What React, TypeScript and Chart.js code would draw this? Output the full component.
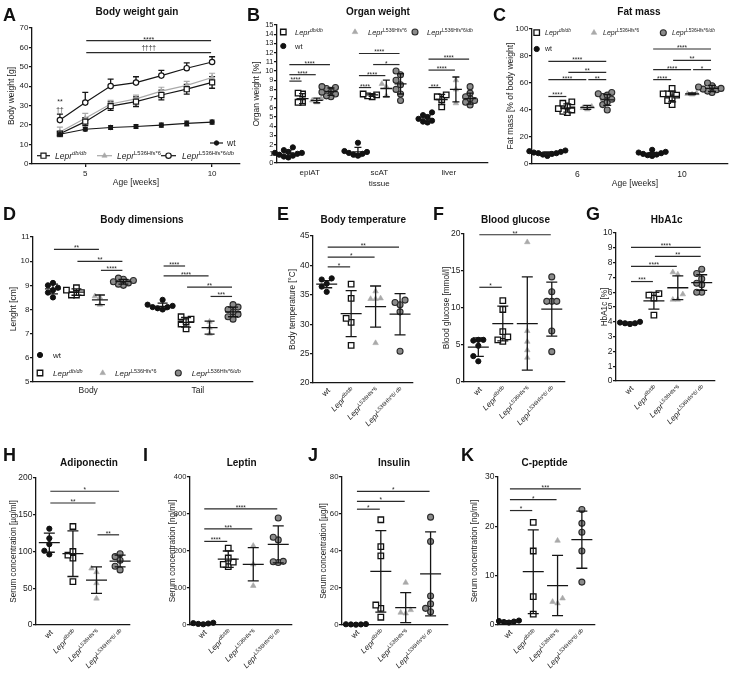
import React, { useEffect, useRef } from "react";
import { Chart, registerables } from "chart.js";
Chart.register(...registerables);

const FF = '"Liberation Sans", Arial, Helvetica, sans-serif';
const INK = "#161616";
const TXT = "#1c1c1c";
const LGREY = "#a9a9a9";

// ================= DATA =================
// Panel A: body weight (mean ± SD) by age
const A_weeks = [4, 5, 6, 7, 8, 9, 10];
const A_wt_mean = [15.3, 17.9, 18.8, 19.3, 20.0, 20.9, 21.6];
const A_wt_sd = [0.8, 0.9, 1.0, 1.0, 1.0, 1.2, 1.0];
const A_db_mean = [15.6, 21.8, 29.8, 32.1, 35.5, 38.5, 42.0];
const A_db_sd = [1.0, 2.0, 2.2, 2.5, 2.5, 2.5, 3.0];
const A_l536_mean = [16.5, 23.5, 30.9, 33.5, 37.5, 40.5, 44.5];
const A_l536_sd = [2.5, 2.6, 1.8, 2.0, 2.0, 2.0, 2.2];
const A_l536db_mean = [22.6, 31.6, 40.1, 41.9, 45.5, 49.3, 52.5];
const A_l536db_sd = [3.1, 5.3, 3.6, 3.0, 2.7, 2.8, 2.7];
const A_x_ticks = [5, 10];
const A_sig: [number, number, number, string][] = [
  [5, 10, 63.5, "****"],
  [5, 10, 57.3, "††††"],
];
const A_early: [number, number, string][] = [
  [4, 33.0, "**"],
  [4, 28.3, "††"],
];

// Panel B: organ weight [%], per tissue
const B_tissues = ["epiAT", "scAT", "liver"];
const B_wt = [[0.6, 0.7, 0.8, 0.9, 1.0, 1.1, 1.1, 1.2, 1.4, 1.7], [0.8, 0.9, 1.0, 1.1, 1.2, 1.3, 2.2], [4.4, 4.5, 4.6, 4.8, 5.0, 5.2, 5.5]];
const B_wt_mean = [1.1, 1.2, 4.8];
const B_wt_sd = [0.3, 0.5, 0.4];
const B_db = [[6.6, 6.6, 7.5, 7.6], [7.2, 7.3, 7.4, 7.5], [6.1, 6.9, 7.2, 7.4]];
const B_db_mean = [7.0, 7.4, 6.9];
const B_db_sd = [0.55, 0.15, 0.55];
const B_l536 = [[6.6, 6.8, 7.0], [7.3, 8.3, 8.6], [6.5, 8.0, 9.0]];
const B_l536_mean = [6.8, 8.1, 8.0];
const B_l536_sd = [0.25, 0.9, 1.35];
const B_l536db = [[7.2, 7.3, 7.5, 7.7, 7.9, 8.1, 8.2, 8.3], [6.8, 7.5, 8.0, 8.5, 9.0, 9.6, 10.0], [6.3, 6.6, 6.8, 7.0, 7.2, 7.6, 8.3]];
const B_l536db_mean = [7.75, 8.6, 7.0];
const B_l536db_sd = [0.4, 1.1, 0.6];
const B_sig: [number, number, number, number, string][] = [
  [0, 0, 1, 8.9, "****"], [0, 0, 2, 9.6, "****"], [0, 0, 3, 10.7, "****"],
  [1, 0, 1, 8.2, "****"], [1, 0, 2, 9.5, "****"], [1, 1, 3, 10.7, "*"], [1, 0, 3, 11.9, "****"],
  [2, 0, 1, 8.2, "***"], [2, 0, 2, 10.1, "****"], [2, 0, 3, 11.3, "****"],
];

// Panel C: fat mass [% of body weight], week 6 / week 10
const C_weeks = ["6", "10"];
const C_wt = [[6, 7, 7.5, 8, 8, 8.5, 9, 9.5, 10], [6, 6.5, 7, 7.5, 8, 8.5, 9, 10.5]];
const C_wt_mean = [8.0, 7.5];
const C_wt_sd = [1.0, 1.0];
const C_db = [[38, 39, 40, 41, 43, 45, 46], [44, 47, 49, 51, 52, 52, 56]];
const C_db_mean = [41.5, 50.0];
const C_db_sd = [3.0, 4.0];
const C_l536 = [[40.5, 41.5, 42.5], [51.5, 52, 52.5]];
const C_l536_mean = [42, 52];
const C_l536_sd = [1.5, 0.6];
const C_l536db = [[40, 44, 46, 48, 50, 51, 52, 53], [53, 54, 55, 55.5, 56, 57, 58, 60]];
const C_l536db_mean = [47.5, 56];
const C_l536db_sd = [4, 2.3];
const C_sig: [number, number, number, number, string][] = [
  [0, 0, 1, 50, "****"], [0, 0, 2, 62.5, "****"], [0, 2, 3, 62.5, "**"], [0, 1, 3, 67.9, "**"], [0, 0, 3, 76, "****"],
  [1, 0, 1, 62.5, "****"], [1, 0, 2, 69.9, "****"], [1, 2, 3, 69.9, "*"], [1, 1, 3, 76.8, "**"], [1, 0, 3, 85.2, "****"],
];

// Panel D: body dimensions [cm]
const D_parts = ["Body", "Tail"];
const D_wt = [[8.5, 8.7, 8.8, 8.9, 9.0, 9.1], [8.0, 8.05, 8.1, 8.1, 8.15, 8.2, 8.4]];
const D_wt_mean = [8.85, 8.13];
const D_wt_sd = [0.2, 0.13];
const D_db = [[8.6, 8.6, 8.7, 8.8, 8.9], [7.2, 7.4, 7.5, 7.6, 7.7]];
const D_db_mean = [8.72, 7.47];
const D_db_sd = [0.13, 0.2];
const D_l536 = [[8.2, 8.5, 8.55], [7.0, 7.25, 7.5]];
const D_l536_mean = [8.4, 7.25];
const D_l536_sd = [0.2, 0.27];
const D_l536db = [[9.0, 9.05, 9.1, 9.15, 9.2, 9.25, 9.3], [7.6, 7.7, 7.8, 7.9, 8.0, 8.1, 8.2]];
const D_l536db_mean = [9.15, 7.9];
const D_l536db_sd = [0.1, 0.2];
const D_sig: [number, number, number, number, string][] = [
  [0, 0, 2, 10.49, "**"], [0, 1, 3, 9.99, "**"], [0, 2, 3, 9.62, "****"],
  [1, 0, 1, 9.8, "****"], [1, 0, 2, 9.39, "****"], [1, 1, 3, 8.93, "**"], [1, 2, 3, 8.54, "***"],
];

// Panel E: body temperature [°C]
const E_pts = [[35.5, 36.4, 36.9, 37.6, 37.8], [26.4, 30.3, 31.0, 34.4, 36.8], [26.8, 34.3, 34.3, 34.4, 35.6], [25.4, 32.1, 33.3, 33.7, 34.1]];
const E_mean = [36.8, 31.8, 33.0, 31.7];
const E_sd = [0.6, 3.9, 3.5, 3.5];
const E_sig: [number, number, number, string][] = [[0, 1, 39.75, "*"], [0, 2, 41.4, "*"], [0, 3, 43.1, "**"]];

// Panel F: blood glucose [mmol/l]
const F_pts = [[2.8, 3.5, 4.9, 5.6, 5.7, 5.7], [5.5, 5.7, 6.1, 6.8, 9.8, 11.0], [3.3, 4.3, 5.45, 6.9, 18.9], [4.1, 6.9, 10.9, 10.9, 10.9, 12.2, 14.2]];
const F_mean = [4.7, 7.9, 7.9, 9.85];
const F_sd = [1.25, 2.35, 6.3, 3.65];
const F_sig: [number, number, number, string][] = [[0, 1, 12.8, "*"], [0, 3, 19.9, "**"]];

// Panel G: HbA1c [%]
const G_pts = [[3.85, 3.9, 3.9, 3.95, 4.0], [4.45, 5.6, 5.8, 5.9], [5.5, 5.5, 5.86, 7.2, 7.35], [6.0, 6.0, 6.5, 6.6, 6.9, 7.26, 7.55]];
const G_mean = [3.92, 5.42, 6.3, 6.65];
const G_sd = [0.06, 0.57, 0.8, 0.53];
const G_sig: [number, number, number, string][] = [[0, 1, 6.72, "***"], [0, 2, 7.74, "****"], [1, 3, 8.42, "**"], [0, 3, 9.03, "****"]];

// Panel H: adiponectin [µg/ml]
const H_pts = [[96, 101, 110, 118, 131], [59, 91, 95, 100, 134], [36, 57, 72, 77], [75, 80, 88, 93, 97]];
const H_mean = [112, 97, 61, 87];
const H_sd = [13, 31, 18, 8];
const H_sig: [number, number, number, string][] = [[0, 2, 166, "**"], [0, 3, 182, "*"], [2, 3, 122.7, "**"]];

// Panel I: leptin [ng/ml]
const I_pts = [[2, 3, 4, 5, 6], [158, 164, 170, 181, 208], [106, 164, 214], [169, 171, 172, 230, 237, 289]];
const I_mean = [4, 178, 164, 218];
const I_sd = [1.5, 22, 45, 50];
const I_sig: [number, number, number, string][] = [[0, 1, 226, "****"], [0, 2, 260, "***"], [0, 3, 314, "****"]];

// Panel J: insulin [µg/l]
const J_pts = [[0.2, 0.3, 0.3, 0.4, 0.5], [4.2, 9.0, 10.8, 37.4, 42.4, 56.9], [6.3, 6.7, 8.1, 22.9], [7.2, 9.0, 11.4, 15.7, 45.1, 58.3]];
const J_mean = [0.3, 29, 9.4, 27.6];
const J_sd = [0.1, 22, 8.1, 22.7];
const J_sig: [number, number, number, string][] = [[0, 1, 62.6, "*"], [0, 2, 66.8, "*"], [0, 3, 72.2, "*"]];

// Panel K: C-peptide [ng/ml]
const K_pts = [[0.5, 0.6, 0.7, 0.8, 0.9, 1.0], [2.2, 5.75, 15.0, 20.8], [4.4, 4.7, 5.4, 17.1], [8.7, 15.0, 18.8, 20.6, 23.4]];
const K_mean = [0.7, 10.8, 8.0, 17.3];
const K_sd = [0.2, 8.5, 6.1, 5.8];
const K_sig: [number, number, number, string][] = [[0, 1, 23.2, "*"], [0, 2, 25.4, "*"], [0, 3, 27.6, "***"]];

// ================= LABELS / STYLES =================
type Part = { t: string; it?: boolean; sup?: boolean };
const LBL_WT: Part[] = [{ t: "wt" }];
const LBL_DB: Part[] = [{ t: "Lepr", it: true }, { t: "db/db", it: true, sup: true }];
const LBL_L536: Part[] = [{ t: "Lepr", it: true }, { t: "L536Hfs*6", sup: true }];
const LBL_L536DB: Part[] = [{ t: "Lepr", it: true }, { t: "L536Hfs*6/", sup: true }, { t: "db", it: true, sup: true }];
const LBL_L536DB_SP: Part[] = [{ t: "Lepr", it: true }, { t: "L536Hfs*6/ ", sup: true }, { t: "db", it: true, sup: true }];
const ROT_LABELS = [LBL_WT, LBL_DB, LBL_L536, LBL_L536DB_SP];

type MS = { ps: string; r: number; bg: string; bd: string; bw: number };
const GS: MS[] = [
  { ps: "circle", r: 2.6, bg: "#111", bd: "#111", bw: 1 },
  { ps: "rect", r: 3.9, bg: "#fff", bd: "#111", bw: 1.3 },
  { ps: "triangle", r: 3.2, bg: LGREY, bd: LGREY, bw: 0.6 },
  { ps: "circle", r: 3.0, bg: "#8b8b8b", bd: "#2b2b2b", bw: 1.1 },
];
const AS: MS[] = [
  { ps: "circle", r: 2.2, bg: INK, bd: INK, bw: 1 },
  { ps: "rect", r: 3.6, bg: "#fff", bd: INK, bw: 1.2 },
  { ps: "triangle", r: 3.0, bg: LGREY, bd: LGREY, bw: 0.6 },
  { ps: "circle", r: 2.7, bg: "#fff", bd: INK, bw: 1.2 },
];

// ================= DRAW HELPERS =================
interface DC { ctx: CanvasRenderingContext2D; X: (v: number) => number; Y: (v: number) => number }

function partFont(p: Part, size: number) {
  return `${p.it ? "italic " : ""}${p.sup ? size * 0.68 : size}px ${FF}`;
}
function richWidth(ctx: CanvasRenderingContext2D, parts: Part[], size: number) {
  let w = 0;
  for (const p of parts) { ctx.font = partFont(p, size); w += ctx.measureText(p.t).width; }
  return w;
}
function drawRich(ctx: CanvasRenderingContext2D, parts: Part[], x: number, y: number, size: number, align = "left") {
  const w = richWidth(ctx, parts, size);
  let cx = align === "left" ? x : align === "right" ? x - w : x - w / 2;
  ctx.save();
  ctx.fillStyle = TXT;
  ctx.textAlign = "left";
  ctx.textBaseline = "alphabetic";
  for (const p of parts) {
    ctx.font = partFont(p, size);
    ctx.fillText(p.t, cx, p.sup ? y - size * 0.38 : y);
    cx += ctx.measureText(p.t).width;
  }
  ctx.restore();
}
function text(ctx: CanvasRenderingContext2D, s: string, x: number, y: number, size: number, align: CanvasTextAlign = "center") {
  ctx.save();
  ctx.font = `${size}px ${FF}`;
  ctx.fillStyle = TXT;
  ctx.textAlign = align;
  ctx.textBaseline = "alphabetic";
  ctx.fillText(s, x, y);
  ctx.restore();
}
function yTitle(ctx: CanvasRenderingContext2D, s: string, x: number, yc: number, size = 8) {
  ctx.save();
  ctx.translate(x, yc);
  ctx.rotate(-Math.PI / 2);
  ctx.font = `${size}px ${FF}`;
  ctx.fillStyle = TXT;
  ctx.textAlign = "center";
  ctx.textBaseline = "middle";
  ctx.fillText(s, 0, 0);
  ctx.restore();
}
function drawMarker(ctx: CanvasRenderingContext2D, m: MS, x: number, y: number) {
  ctx.save();
  ctx.beginPath();
  if (m.ps === "circle") ctx.arc(x, y, m.r, 0, Math.PI * 2);
  else if (m.ps === "rect") { const s = m.r / Math.SQRT2; ctx.rect(x - s, y - s, 2 * s, 2 * s); }
  else {
    let a = 0;
    ctx.moveTo(x + Math.sin(a) * m.r, y - Math.cos(a) * m.r);
    a += (2 * Math.PI) / 3; ctx.lineTo(x + Math.sin(a) * m.r, y - Math.cos(a) * m.r);
    a += (2 * Math.PI) / 3; ctx.lineTo(x + Math.sin(a) * m.r, y - Math.cos(a) * m.r);
    ctx.closePath();
  }
  ctx.fillStyle = m.bg; ctx.fill();
  ctx.lineWidth = m.bw; ctx.strokeStyle = m.bd; ctx.stroke();
  ctx.restore();
}
function legendItem(ctx: CanvasRenderingContext2D, m: MS, mx: number, y: number, parts: Part[], tx: number, size: number) {
  drawMarker(ctx, m, mx, y);
  drawRich(ctx, parts, tx, y + size * 0.35, size, "left");
}
function errBar(d: DC, xv: number, mean: number, sd: number, mh: number, ch: number, up = false, color = INK, lw = 1.3) {
  const { ctx, X, Y } = d;
  const px = X(xv);
  ctx.save();
  ctx.strokeStyle = color; ctx.lineWidth = lw;
  ctx.beginPath();
  if (mh > 0) { ctx.moveTo(px - mh, Y(mean)); ctx.lineTo(px + mh, Y(mean)); }
  const top = Y(mean + sd);
  const bot = up ? Y(mean) : Y(mean - sd);
  ctx.moveTo(px, top); ctx.lineTo(px, bot);
  ctx.moveTo(px - ch, top); ctx.lineTo(px + ch, top);
  if (!up) { ctx.moveTo(px - ch, bot); ctx.lineTo(px + ch, bot); }
  ctx.stroke();
  ctx.restore();
}
function sigBar(d: DC, x1: number, x2: number, yv: number, label: string, size = 6.5, baseOff?: number) {
  const { ctx, X, Y } = d;
  const a = X(x1) + 1, b = X(x2) - 1, y = Y(yv);
  ctx.save();
  ctx.strokeStyle = "#2a2a2a"; ctx.lineWidth = 1.2;
  ctx.beginPath(); ctx.moveTo(a, y); ctx.lineTo(b, y); ctx.stroke();
  ctx.restore();
  text(ctx, label, (a + b) / 2, y + (baseOff !== undefined ? baseOff : -1 + size * 0.3), size);
}
function rotLabel(ctx: CanvasRenderingContext2D, parts: Part[], x: number, y: number, size: number) {
  ctx.save();
  ctx.translate(x, y);
  ctx.rotate(-Math.PI / 4);
  drawRich(ctx, parts, 0, size * 0.35, size, "right");
  ctx.restore();
}

function spread(vals: number[], tolV: number, step: number) {
  const order = vals.map((_, i) => i).sort((a, b) => vals[a] - vals[b]);
  const placed: { y: number; o: number }[] = [];
  const offs = vals.map(() => 0);
  const seq = [0, -1, 1, -2, 2, -3, 3, -4, 4];
  for (const i of order) {
    const near = placed.filter((p) => Math.abs(p.y - vals[i]) < tolV);
    let o = 0;
    for (const s of seq) { if (!near.some((p) => p.o === s)) { o = s; break; } }
    placed.push({ y: vals[i], o });
    offs[i] = o * step;
  }
  return offs;
}
function groupSets(entries: { g: number; x: number; vals: number[] }[], tolV: number, step: number) {
  return [3, 2, 1, 0].map((g) => {
    const data: { x: number; y: number }[] = [];
    entries.filter((e) => e.g === g).forEach((e) => {
      const offs = spread(e.vals, tolV, step);
      e.vals.forEach((v, i) => data.push({ x: e.x + offs[i], y: v }));
    });
    const m = GS[g];
    return {
      data, showLine: false, clip: false,
      pointStyle: m.ps, pointRadius: m.r, pointHoverRadius: m.r,
      pointBackgroundColor: m.bg, pointBorderColor: m.bd, pointBorderWidth: m.bw,
    };
  });
}

// ================= SPEC TYPE =================
interface Spec {
  id: string; cv: number[]; plot: number[]; xr: number[]; yr: number[];
  xTicks?: number[]; tick: number; datasets: any[];
  under?: (d: DC) => void; over: (d: DC) => void;
}
const tolFor = (yr: number[], plot: number[]) => ((yr[1] - yr[0]) * 5.5) / (plot[3] - plot[1]);
const stepFor = (xr: number[], plot: number[], px: number) => (px * (xr[1] - xr[0])) / (plot[2] - plot[0]);

// ---------- A ----------
const A_plot = [32, 28, 240, 164];
const lineSet = (ys: number[], color: string, m: MS) => ({
  data: A_weeks.map((w, i) => ({ x: w, y: ys[i] })),
  showLine: true, borderColor: color, borderWidth: 1.2, tension: 0, clip: false,
  pointStyle: m.ps, pointRadius: m.r, pointHoverRadius: m.r,
  pointBackgroundColor: m.bg, pointBorderColor: m.bd, pointBorderWidth: m.bw,
});
const specA: Spec = {
  id: "A", cv: [0, 0, 245, 200], plot: A_plot, xr: [2.9, 11.1], yr: [0, 70, 10], xTicks: A_x_ticks, tick: 8,
  datasets: [
    lineSet(A_wt_mean, INK, AS[0]),
    lineSet(A_db_mean, INK, AS[1]),
    lineSet(A_l536db_mean, INK, AS[3]),
    lineSet(A_l536_mean, LGREY, AS[2]),
  ],
  under: (d) => {
    A_weeks.forEach((w, i) => {
      errBar(d, w, A_l536_mean[i], A_l536_sd[i], 0, 3, false, LGREY, 1.2);
      errBar(d, w, A_db_mean[i], A_db_sd[i], 0, 3, false, INK, 1.3);
      errBar(d, w, A_wt_mean[i], A_wt_sd[i], 0, 2.5, false, INK, 1.3);
      errBar(d, w, A_l536db_mean[i], A_l536db_sd[i], 0, 3, true, INK, 1.3);
    });
  },
  over: (d) => {
    const { ctx, X, Y } = d;
    sigBar(d, A_sig[0][0], A_sig[0][1], A_sig[0][2], A_sig[0][3], 7);
    sigBar(d, A_sig[1][0], A_sig[1][1], A_sig[1][2], A_sig[1][3], 6.5, -2.5);
    text(ctx, A_early[0][2], X(A_early[0][0]), Y(A_early[0][1]) + 4, 7);
    text(ctx, A_early[1][2], X(A_early[1][0]), Y(A_early[1][1]) + 2.5, 6.5);
    // legend
    const seg = (x1: number, x2: number, y: number, c: string) => {
      ctx.save(); ctx.strokeStyle = c; ctx.lineWidth = 1.2; ctx.beginPath(); ctx.moveTo(x1, y); ctx.lineTo(x2, y); ctx.stroke(); ctx.restore();
    };
    seg(210, 223, 143, INK); legendItem(ctx, AS[0], 216.5, 143, LBL_WT, 227, 8.5);
    seg(37, 50, 155.7, INK); legendItem(ctx, AS[1], 43.5, 155.7, LBL_DB, 55, 8.5);
    seg(97, 112, 155.7, LGREY); legendItem(ctx, AS[2], 104.5, 155.7, LBL_L536, 117, 8.5);
    seg(161, 176, 155.7, INK); legendItem(ctx, AS[3], 168.5, 155.7, LBL_L536DB, 182, 8.5);
    text(ctx, "Age [weeks]", 136, 185, 8.5);
    yTitle(ctx, "Body weight [g]", 12, 96, 8.5);
  },
};

// ---------- B ----------
const B_plot = [277, 25, 488, 163];
const B_xr = [-0.8, 14.06];
const bx = (t: number, g: number) => t * 4.9 + g;
const B_pts = [B_wt, B_db, B_l536, B_l536db];
const B_means = [B_wt_mean, B_db_mean, B_l536_mean, B_l536db_mean];
const B_sds = [B_wt_sd, B_db_sd, B_l536_sd, B_l536db_sd];
const specB: Spec = {
  id: "B", cv: [245, 0, 248, 200], plot: B_plot, xr: B_xr, yr: [0, 15, 1], tick: 7.5,
  datasets: groupSets(
    B_pts.flatMap((arr, g) => arr.map((vals, t) => ({ g, x: bx(t, g), vals }))),
    tolFor([0, 15], B_plot), stepFor(B_xr, B_plot, 4.5)
  ),
  over: (d) => {
    const { ctx, X } = d;
    B_tissues.forEach((_, t) => [0, 1, 2, 3].forEach((g) => errBar(d, bx(t, g), B_means[g][t], B_sds[g][t], 6, 3.5)));
    B_sig.forEach(([t, a, b, y, l]) => sigBar(d, bx(t, a), bx(t, b), y, l, 6.5));
    B_tissues.forEach((s, t) => text(ctx, s, X(bx(t, 1.5)), 174.5, 8));
    text(ctx, "tissue", X(bx(1, 1.5)), 186, 8);
    yTitle(ctx, "Organ weight [%]", 257, 94, 8.5);
    legendItem(ctx, GS[1], 283.3, 32, LBL_DB, 295, 7.5);
    legendItem(ctx, GS[2], 355, 32, LBL_L536, 368, 7.5);
    legendItem(ctx, GS[3], 415, 32, LBL_L536DB, 427, 7.5);
    legendItem(ctx, GS[0], 283.3, 46, LBL_WT, 295, 7.5);
  },
};

// ---------- C ----------
const C_plot = [532, 29, 728, 164];
const C_xr = [-0.77, 9.05];
const cxp = (w: number, g: number) => w * 5.25 + g;
const C_pts = [C_wt, C_db, C_l536, C_l536db];
const C_means = [C_wt_mean, C_db_mean, C_l536_mean, C_l536db_mean];
const C_sds = [C_wt_sd, C_db_sd, C_l536_sd, C_l536db_sd];
const specC: Spec = {
  id: "C", cv: [490, 0, 248, 200], plot: C_plot, xr: C_xr, yr: [0, 100, 20], tick: 8,
  datasets: groupSets(
    C_pts.flatMap((arr, g) => arr.map((vals, w) => ({ g, x: cxp(w, g), vals }))),
    tolFor([0, 100], C_plot), stepFor(C_xr, C_plot, 4.5)
  ),
  over: (d) => {
    const { ctx, X } = d;
    C_weeks.forEach((_, w) => [0, 1, 2, 3].forEach((g) => errBar(d, cxp(w, g), C_means[g][w], C_sds[g][w], 7, 4)));
    C_sig.forEach(([w, a, b, y, l]) => sigBar(d, cxp(w, a), cxp(w, b), y, l, 6.5));
    C_weeks.forEach((s, w) => text(ctx, s, X(cxp(w, 1.5)), 176.5, 8.5));
    text(ctx, "Age [weeks]", 635, 186, 8.5);
    yTitle(ctx, "Fat mass [% of body weight]", 511, 96, 8.5);
    legendItem(ctx, GS[1], 536.7, 32.7, LBL_DB, 545, 7);
    legendItem(ctx, GS[2], 594, 32.7, LBL_L536, 603, 7);
    legendItem(ctx, GS[3], 663.3, 32.7, LBL_L536DB, 672, 7);
    legendItem(ctx, GS[0], 536.7, 49, LBL_WT, 545, 7);
  },
};

// ---------- D ----------
const D_plot = [33, 237, 253, 382];
const D_xr = [-0.85, 8.52];
const dxp = (c: number, g: number) => c * 4.67 + g;
const D_pts = [D_wt, D_db, D_l536, D_l536db];
const D_means = [D_wt_mean, D_db_mean, D_l536_mean, D_l536db_mean];
const D_sds = [D_wt_sd, D_db_sd, D_l536_sd, D_l536db_sd];
const specD: Spec = {
  id: "D", cv: [0, 205, 270, 200], plot: D_plot, xr: D_xr, yr: [5, 11, 1], tick: 8,
  datasets: groupSets(
    D_pts.flatMap((arr, g) => arr.map((vals, c) => ({ g, x: dxp(c, g), vals }))),
    tolFor([5, 11], D_plot), stepFor(D_xr, D_plot, 5)
  ),
  over: (d) => {
    const { ctx, X } = d;
    D_parts.forEach((_, c) => [0, 1, 2, 3].forEach((g) => errBar(d, dxp(c, g), D_means[g][c], D_sds[g][c], 8, 5)));
    D_sig.forEach(([c, a, b, y, l]) => sigBar(d, dxp(c, a), dxp(c, b), y, l, 6.5));
    D_parts.forEach((s, c) => text(ctx, s, X(dxp(c, 1.5)), 392.5, 8.5));
    yTitle(ctx, "Lenght [cm]", 13.5, 309, 8.5);
    legendItem(ctx, GS[0], 40, 355, LBL_WT, 53, 8);
    legendItem(ctx, GS[1], 40, 373, LBL_DB, 53, 8);
    legendItem(ctx, GS[2], 102.7, 373, LBL_L536, 115, 8);
    legendItem(ctx, GS[3], 178.3, 373, LBL_L536DB, 191.7, 8);
  },
};

// ---------- E-K ----------
function dotPanel(id: string, cv: number[], plot: number[], xr: number[], yr: number[], pts: number[][],
  mean: number[], sd: number[], sig: [number, number, number, string][], ytitle: string, ytx: number, tick = 8.5): Spec {
  return {
    id, cv, plot, xr, yr, tick,
    datasets: groupSets(pts.map((vals, g) => ({ g, x: g, vals })), tolFor(yr, plot), stepFor(xr, plot, 5)),
    over: (d) => {
      const { ctx, X } = d;
      mean.forEach((m, g) => errBar(d, g, m, sd[g], 10.5, 5.5));
      sig.forEach(([a, b, y, l]) => sigBar(d, a, b, y, l, 6.5));
      ROT_LABELS.forEach((p, g) => rotLabel(ctx, p, X(g) + 2, plot[3] + 6, 8));
      yTitle(ctx, ytitle, ytx, (plot[1] + plot[3]) / 2, 8.2);
    },
  };
}
const specE = dotPanel("E", [272, 205, 150, 230], [313, 236, 413, 383], [-0.56, 3.53], [20, 45, 5], E_pts, E_mean, E_sd, E_sig, "Body temperature [°C]", 293);
const specF = dotPanel("F", [425, 205, 150, 230], [464, 234, 565, 382], [-0.585, 3.54], [0, 20, 5], F_pts, F_mean, F_sd, F_sig, "Blood glucose [mmol/l]", 447);
const specG = dotPanel("G", [580, 205, 155, 230], [616, 233, 715, 381], [-0.586, 3.556], [0, 10, 1], G_pts, G_mean, G_sd, G_sig, "HbA1c [%]", 604.5);
const specH = dotPanel("H", [0, 445, 140, 230], [36, 478, 130, 625], [-0.565, 3.42], [0, 200, 50], H_pts, H_mean, H_sd, H_sig, "Serum concentration [µg/ml]", 13.5);
const specI = dotPanel("I", [140, 445, 160, 230], [190, 477, 292, 625], [-0.53, 3.55], [0, 400, 100], I_pts, I_mean, I_sd, I_sig, "Serum concentration [ng/ml]", 172.5, 7.6);
const specJ = dotPanel("J", [300, 445, 155, 230], [342, 477, 448, 625], [-0.56, 3.7], [0, 80, 20], J_pts, J_mean, J_sd, J_sig, "Serum concentration [µg/l]", 323.5, 7.8);
const specK = dotPanel("K", [455, 445, 150, 230], [498, 477, 595, 625], [-0.45, 3.54], [0, 30, 10], K_pts, K_mean, K_sd, K_sig, "Serum concentration [ng/ml]", 475);

const SPECS = [specA, specB, specC, specD, specE, specF, specG, specH, specI, specJ, specK];

const LETTERS: [string, number, number][] = [
  ["A", 3, 21.7], ["B", 247, 21.7], ["C", 493, 20.8], ["D", 3, 220.5], ["E", 277, 220.5], ["F", 433, 220.5],
  ["G", 586, 220.5], ["H", 3, 461.5], ["I", 143, 461.5], ["J", 308, 461], ["K", 461, 461],
];
const TITLES: [string, number, number][] = [
  ["Body weight gain", 137, 15.8], ["Organ weight", 378, 15.8], ["Fat mass", 639, 15.8],
  ["Body dimensions", 142, 223], ["Body temperature", 363.3, 223], ["Blood glucose", 515.5, 223], ["HbA1c", 666.7, 223],
  ["Adiponectin", 89, 466.5], ["Leptin", 241.7, 466.5], ["Insulin", 394, 466.5], ["C-peptide", 544.5, 466.5],
];

// ================= COMPONENTS =================
function Panel({ s }: { s: Spec }) {
  const ref = useRef<HTMLCanvasElement>(null);
  useEffect(() => {
    const el = ref.current;
    if (!el) return;
    const [cx, cy, cw, ch] = s.cv;
    const [l, t, r, b] = s.plot;
    const wrap = (fn: (d: DC) => void) => (chart: any) => {
      const ctx = chart.ctx as CanvasRenderingContext2D;
      const xs = chart.scales.x, ys = chart.scales.y;
      ctx.save();
      ctx.translate(-cx, -cy);
      fn({ ctx, X: (v) => xs.getPixelForValue(v) + cx, Y: (v) => ys.getPixelForValue(v) + cy });
      ctx.restore();
    };
    const plugin: any = { id: "deco" + s.id, afterDatasetsDraw: wrap(s.over) };
    if (s.under) plugin.beforeDatasetsDraw = wrap(s.under);
    const yTicks: number[] = [];
    for (let v = s.yr[0]; v <= s.yr[1] + 1e-9; v += s.yr[2]) yTicks.push(+v.toFixed(6));
    const xTicks = s.xTicks || [s.xr[0]];
    const chart = new Chart(el, {
      type: "scatter",
      data: { datasets: s.datasets },
      options: {
        animation: false, responsive: false, devicePixelRatio: 1, events: [],
        layout: { autoPadding: false, padding: { top: t - cy, right: cx + cw - r, left: 0, bottom: 0 } },
        plugins: { legend: { display: false }, tooltip: { enabled: false }, title: { display: false } },
        scales: {
          x: {
            type: "linear", position: "bottom", min: s.xr[0], max: s.xr[1],
            afterFit: (sc: any) => { sc.height = cy + ch - b; },
            afterBuildTicks: (sc: any) => { sc.ticks = xTicks.map((v) => ({ value: v })); },
            ticks: { display: !!s.xTicks, autoSkip: false, maxRotation: 0, minRotation: 0, padding: 2, color: TXT, font: { family: FF, size: s.tick } },
            grid: { display: true, drawOnChartArea: false, drawTicks: !!s.xTicks, tickLength: 3, color: INK, lineWidth: 1.3 },
            border: { display: true, color: INK, width: 1.3 },
          },
          y: {
            type: "linear", position: "left", min: s.yr[0], max: s.yr[1],
            afterFit: (sc: any) => { sc.width = l - cx; },
            afterBuildTicks: (sc: any) => { sc.ticks = yTicks.map((v) => ({ value: v })); },
            ticks: { autoSkip: false, padding: 0.5, color: TXT, font: { family: FF, size: s.tick } },
            grid: { display: true, drawOnChartArea: false, drawTicks: true, tickLength: 3, color: INK, lineWidth: 1.3 },
            border: { display: true, color: INK, width: 1.3 },
          },
        },
      } as any,
      plugins: [plugin],
    });
    return () => chart.destroy();
  }, [s]);
  return (
    <canvas ref={ref} width={s.cv[2]} height={s.cv[3]}
      style={{ position: "absolute", left: s.cv[0], top: s.cv[1], width: s.cv[2], height: s.cv[3] }} />
  );
}

export default function App() {
  return (
    <div style={{ position: "absolute", left: 0, top: 0, width: 738, height: 675, background: "#fff", overflow: "hidden", fontFamily: FF }}>
      {SPECS.map((s) => <Panel key={s.id} s={s} />)}
      {LETTERS.map(([t, x, base]) => (
        <div key={t} style={{ position: "absolute", left: x, top: base - 0.8465 * 18, font: `bold 18px ${FF}`, lineHeight: "18px", color: "#111", whiteSpace: "nowrap" }}>{t}</div>
      ))}
      {TITLES.map(([t, x, base]) => (
        <div key={t} style={{ position: "absolute", left: x - 100, width: 200, textAlign: "center", top: base - 0.8465 * 10, font: `bold 10px ${FF}`, lineHeight: "10px", color: "#111", whiteSpace: "nowrap" }}>{t}</div>
      ))}
    </div>
  );
}
